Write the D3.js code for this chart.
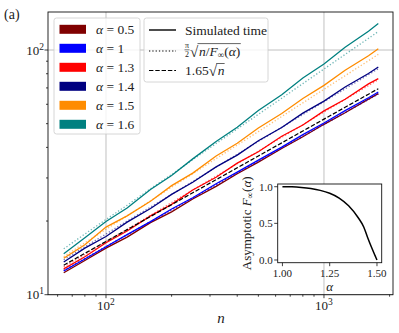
<!DOCTYPE html>
<html>
<head>
<meta charset="utf-8">
<script src="https://cdn.jsdelivr.net/npm/d3@7"></script>
<style>
body { margin: 0; background: #fff; }
</style>
</head>
<body>
<svg id="fig" width="399" height="333" font-family="'Liberation Serif', 'Times New Roman', serif" fill="#222"></svg>
<script>
// system sizes n
var ns = [64, 80, 100, 125, 160, 200, 250, 320, 400, 500, 640, 800, 1000, 1250, 1600, 1775];

// simulated time, one per alpha
var simA05 = [12.3, 13.8, 15.5, 17.2, 19.7, 21.8, 24.6, 27.7, 31.2, 34.8, 39.6, 44.2, 49.7, 55.4, 63.0, 66.3];
var simA10 = [12.5, 14.0, 15.7, 17.6, 19.9, 22.4, 24.9, 28.4, 31.7, 35.5, 40.1, 45.1, 50.3, 56.5, 63.8, 67.4];
var simA13 = [12.75, 14.3, 16.3, 18.2, 21.0, 23.4, 26.8, 30.2, 34.5, 38.4, 44.4, 49.4, 56.4, 62.9, 72.7, 76.4];
var simA14 = [13.6, 15.5, 17.3, 19.8, 22.5, 25.7, 28.8, 33.3, 37.2, 42.6, 48.2, 55.2, 61.8, 70.6, 80.2, 85.2];
var simA15 = [14.1, 16.0, 18.9, 21.0, 24.1, 27.9, 31.4, 36.9, 41.6, 48.0, 55.0, 63.4, 71.7, 82.6, 94.8, 101.2];
var simA16 = [14.7, 17.1, 19.9, 22.6, 26.9, 30.7, 35.9, 42.3, 48.3, 56.6, 65.6, 76.8, 87.7, 102.6, 119.4, 128.3];

// pi/2 sqrt(n/F) prediction (dotted)
var prdA05 = [12.57, 14.05, 15.71, 17.56, 19.87, 22.21, 24.84, 28.1, 31.42, 35.12, 39.74, 44.43, 49.67, 55.54, 62.83, 66.18];
var prdA10 = [12.57, 14.05, 15.71, 17.56, 19.87, 22.21, 24.84, 28.1, 31.42, 35.12, 39.74, 44.43, 49.67, 55.54, 62.83, 66.18];
var prdA13 = [13.0, 14.6, 16.5, 18.5, 21.1, 23.8, 26.8, 30.5, 34.3, 38.6, 44.0, 49.5, 55.8, 62.8, 71.5, 75.6];
var prdA14 = [13.9, 15.7, 17.7, 20.0, 22.8, 25.7, 29.0, 33.2, 37.5, 42.3, 48.3, 54.5, 61.5, 69.4, 79.3, 83.9];
var prdA15 = [14.3, 16.3, 18.5, 21.0, 24.2, 27.5, 31.2, 36.0, 40.9, 46.4, 53.5, 60.8, 69.1, 78.5, 90.4, 96.0];
var prdA16 = [15.4, 17.7, 20.3, 23.2, 27.1, 31.0, 35.6, 41.5, 47.6, 54.6, 63.5, 72.9, 83.6, 95.9, 111.6, 119.0];

// 1.65 sqrt(n) (dashed)
var fitVals = [13.2, 14.76, 16.5, 18.45, 20.87, 23.33, 26.09, 29.52, 33.0, 36.9, 41.74, 46.67, 52.18, 58.34, 66.0, 69.5];

var alphaLabels = ["0.5", "1", "1.3", "1.4", "1.5", "1.6"];
var colors = ["#800000", "#0000ff", "#ff0000", "#000080", "#ff8c00", "#008080"];
var simSeries = [simA05, simA10, simA13, simA14, simA15, simA16];
var prdSeries = [prdA05, prdA10, prdA13, prdA14, prdA15, prdA16];

// inset: asymptotic F(alpha)
var alphaGrid = [1.0, 1.05, 1.1, 1.15, 1.2, 1.25, 1.3, 1.35, 1.4, 1.43, 1.45, 1.47, 1.49, 1.5];
var fInf = [1.0, 0.998, 0.99, 0.975, 0.95, 0.91, 0.845, 0.74, 0.58, 0.45, 0.31, 0.18, 0.06, 0.0];

var xMajor = [100, 1000];
var xMinor = [60, 70, 80, 90, 200, 300, 400, 500, 600, 700, 800, 900, 2000];
var yMajor = [10, 100];
var yMinor = [20, 30, 40, 50, 60, 70, 80, 90];
var insetXTicks = [1.0, 1.25, 1.5];
var insetYTicks = [0.0, 0.5, 1.0];

var svg = d3.select("#fig");
var L = 48, R = 393, T = 12, B = 294.7;

var x = d3.scaleLog().domain([54.2, 2073]).range([L, R]);
var y = d3.scaleLog().domain([10, 143]).range([B, T]);

svg.append("defs").append("clipPath").attr("id", "clip")
  .append("rect").attr("x", L).attr("y", T).attr("width", R - L).attr("height", B - T);

// grid
var grid = svg.append("g").attr("stroke", "#b0b0b0").attr("stroke-width", 0.8);
xMajor.forEach(function(v) {
  grid.append("line").attr("x1", x(v)).attr("x2", x(v)).attr("y1", T).attr("y2", B);
});
yMajor.forEach(function(v) {
  grid.append("line").attr("x1", L).attr("x2", R).attr("y1", y(v)).attr("y2", y(v));
});

var line = d3.line().x(function(d) { return x(d[0]); }).y(function(d) { return y(d[1]); });
function pts(vals) { return ns.map(function(n, i) { return [n, vals[i]]; }); }

var plot = svg.append("g").attr("clip-path", "url(#clip)").attr("fill", "none");
simSeries.forEach(function(s, i) {
  plot.append("path").attr("d", line(pts(s)))
    .attr("stroke", colors[i]).attr("stroke-width", 1.3);
  plot.append("path").attr("d", line(pts(prdSeries[i])))
    .attr("stroke", colors[i]).attr("stroke-opacity", 0.55).attr("stroke-width", 1.3)
    .attr("stroke-dasharray", "1.3,2");
});
plot.append("path").attr("d", line(pts(fitVals)))
  .attr("stroke", "#000").attr("stroke-width", 1.2).attr("stroke-dasharray", "4.4,1.9");

// frame
svg.append("rect").attr("x", L).attr("y", T).attr("width", R - L).attr("height", B - T)
  .attr("fill", "none").attr("stroke", "#111").attr("stroke-width", 0.9);

// ticks
var tk = svg.append("g").attr("stroke", "#111").attr("stroke-width", 0.8);
xMajor.forEach(function(v) { tk.append("line").attr("x1", x(v)).attr("x2", x(v)).attr("y1", B).attr("y2", B + 3.5); });
xMinor.forEach(function(v) { tk.append("line").attr("x1", x(v)).attr("x2", x(v)).attr("y1", B).attr("y2", B + 2); });
yMajor.forEach(function(v) { tk.append("line").attr("x1", L).attr("x2", L - 3.5).attr("y1", y(v)).attr("y2", y(v)); });
yMinor.forEach(function(v) { tk.append("line").attr("x1", L).attr("x2", L - 2).attr("y1", y(v)).attr("y2", y(v)); });

function powLabel(g, px, py, exp, anchor) {
  var t = g.append("text").attr("x", px).attr("y", py).attr("font-size", 13).attr("text-anchor", anchor);
  t.append("tspan").text("10");
  t.append("tspan").attr("dy", -5).attr("font-size", 9.5).text(exp);
}
xMajor.forEach(function(v) { powLabel(svg, x(v), 310, String(Math.round(Math.log10(v))), "middle"); });
yMajor.forEach(function(v) { powLabel(svg, 44, y(v) + 4.5, String(Math.round(Math.log10(v))), "end"); });

svg.append("text").attr("x", 221).attr("y", 323).attr("font-size", 15).attr("font-style", "italic")
  .attr("text-anchor", "middle").text("n");
svg.append("text").attr("x", 4).attr("y", 19).attr("font-size", 14).text("(a)");

// legend 1: alpha colours
var lg1 = svg.append("g");
lg1.append("rect").attr("x", 54).attr("y", 18).attr("width", 86).attr("height", 116).attr("rx", 2.5)
  .attr("fill", "#fff").attr("fill-opacity", 0.8).attr("stroke", "#ccc").attr("stroke-width", 0.8);
alphaLabels.forEach(function(a, i) {
  var cy = 29.3 + i * 19;
  lg1.append("rect").attr("x", 59.5).attr("y", cy - 4.5).attr("width", 26.5).attr("height", 9).attr("fill", colors[i]);
  var t = lg1.append("text").attr("x", 96).attr("y", cy + 4.5).attr("font-size", 13.5);
  t.append("tspan").attr("font-style", "italic").text("α");
  t.append("tspan").text(" = " + a);
});

// legend 2: line styles
var lg2 = svg.append("g");
lg2.append("rect").attr("x", 144).attr("y", 18).attr("width", 124).attr("height", 64).attr("rx", 2.5)
  .attr("fill", "#fff").attr("fill-opacity", 0.8).attr("stroke", "#ccc").attr("stroke-width", 0.8);
lg2.append("line").attr("x1", 149).attr("x2", 176).attr("y1", 30).attr("y2", 30)
  .attr("stroke", "#000").attr("stroke-width", 1.4);
lg2.append("line").attr("x1", 149).attr("x2", 176).attr("y1", 51).attr("y2", 51)
  .attr("stroke", "#000").attr("stroke-width", 1.2).attr("stroke-dasharray", "1.3,2");
lg2.append("line").attr("x1", 149).attr("x2", 176).attr("y1", 70.5).attr("y2", 70.5)
  .attr("stroke", "#000").attr("stroke-width", 1.2).attr("stroke-dasharray", "4.4,1.9");
lg2.append("text").attr("x", 185).attr("y", 34.5).attr("font-size", 13.5).text("Simulated time");

// pi/2 sqrt(n/F(alpha))
lg2.append("text").attr("x", 187).attr("y", 48).attr("font-size", 8).attr("text-anchor", "middle").text("π");
lg2.append("line").attr("x1", 184.5).attr("x2", 189.5).attr("y1", 49.8).attr("y2", 49.8).attr("stroke", "#222").attr("stroke-width", 0.6);
lg2.append("text").attr("x", 187).attr("y", 56.5).attr("font-size", 8).attr("text-anchor", "middle").text("2");
lg2.append("text").attr("x", 190).attr("y", 57).attr("font-size", 15).text("√");
var rad1 = lg2.append("text").attr("x", 199).attr("y", 56).attr("font-size", 13.5);
rad1.append("tspan").attr("font-style", "italic").text("n");
rad1.append("tspan").text("/");
rad1.append("tspan").attr("font-style", "italic").text("F");
rad1.append("tspan").attr("font-size", 9).attr("dy", 2).text("∞");
rad1.append("tspan").attr("dy", -2).text("(");
rad1.append("tspan").attr("font-style", "italic").text("α");
rad1.append("tspan").text(")");
var w1 = rad1.node().getComputedTextLength();
lg2.append("line").attr("x1", 197.5).attr("x2", 199 + w1 + 0.5).attr("y1", 43.6).attr("y2", 43.6)
  .attr("stroke", "#222").attr("stroke-width", 0.7);

// 1.65 sqrt(n)
var t3 = lg2.append("text").attr("x", 185).attr("y", 75).attr("font-size", 13.5).text("1.65");
var w3 = t3.node().getComputedTextLength();
lg2.append("text").attr("x", 185 + w3).attr("y", 76).attr("font-size", 15).text("√");
lg2.append("text").attr("x", 185 + w3 + 9).attr("y", 75).attr("font-size", 13.5).attr("font-style", "italic").text("n");
lg2.append("line").attr("x1", 185 + w3 + 7.5).attr("x2", 185 + w3 + 16).attr("y1", 63.5).attr("y2", 63.5)
  .attr("stroke", "#222").attr("stroke-width", 0.7);

// inset
var iL = 277.7, iR = 381.7, iT = 184, iB = 262.7;
var ix = d3.scaleLinear().domain([0.975, 1.525]).range([iL, iR]);
var iy = d3.scaleLinear().domain([-0.037, 1.037]).range([iB, iT]);
var ins = svg.append("g");
ins.append("rect").attr("x", iL).attr("y", iT).attr("width", iR - iL).attr("height", iB - iT)
  .attr("fill", "#fff").attr("stroke", "#111").attr("stroke-width", 0.9);
var iline = d3.line().curve(d3.curveMonotoneX)
  .x(function(d) { return ix(d[0]); }).y(function(d) { return iy(d[1]); });
ins.append("path").attr("d", iline(alphaGrid.map(function(a, i) { return [a, fInf[i]]; })))
  .attr("fill", "none").attr("stroke", "#000").attr("stroke-width", 1.5);
insetXTicks.forEach(function(v) {
  ins.append("line").attr("x1", ix(v)).attr("x2", ix(v)).attr("y1", iB).attr("y2", iB + 3.5).attr("stroke", "#111").attr("stroke-width", 0.8);
  ins.append("text").attr("x", ix(v)).attr("y", iB + 14).attr("font-size", 11).attr("text-anchor", "middle").text(v.toFixed(2));
});
insetYTicks.forEach(function(v) {
  ins.append("line").attr("x1", iL).attr("x2", iL - 3.5).attr("y1", iy(v)).attr("y2", iy(v)).attr("stroke", "#111").attr("stroke-width", 0.8);
  ins.append("text").attr("x", iL - 5).attr("y", iy(v) + 3.8).attr("font-size", 11).attr("text-anchor", "end").text(v.toFixed(1));
});
ins.append("text").attr("x", (iL + iR) / 2).attr("y", 291).attr("font-size", 13).attr("font-style", "italic")
  .attr("text-anchor", "middle").text("α");
var yl = ins.append("text").attr("transform", "translate(251," + ((iT + iB) / 2) + ") rotate(-90)")
  .attr("font-size", 13).attr("text-anchor", "middle");
yl.append("tspan").text("Asymptotic ");
yl.append("tspan").attr("font-style", "italic").text("F");
yl.append("tspan").attr("font-size", 9).attr("dy", 2).text("∞");
yl.append("tspan").attr("dy", -2).text("(");
yl.append("tspan").attr("font-style", "italic").text("α");
yl.append("tspan").text(")");
</script>
</body>
</html>
